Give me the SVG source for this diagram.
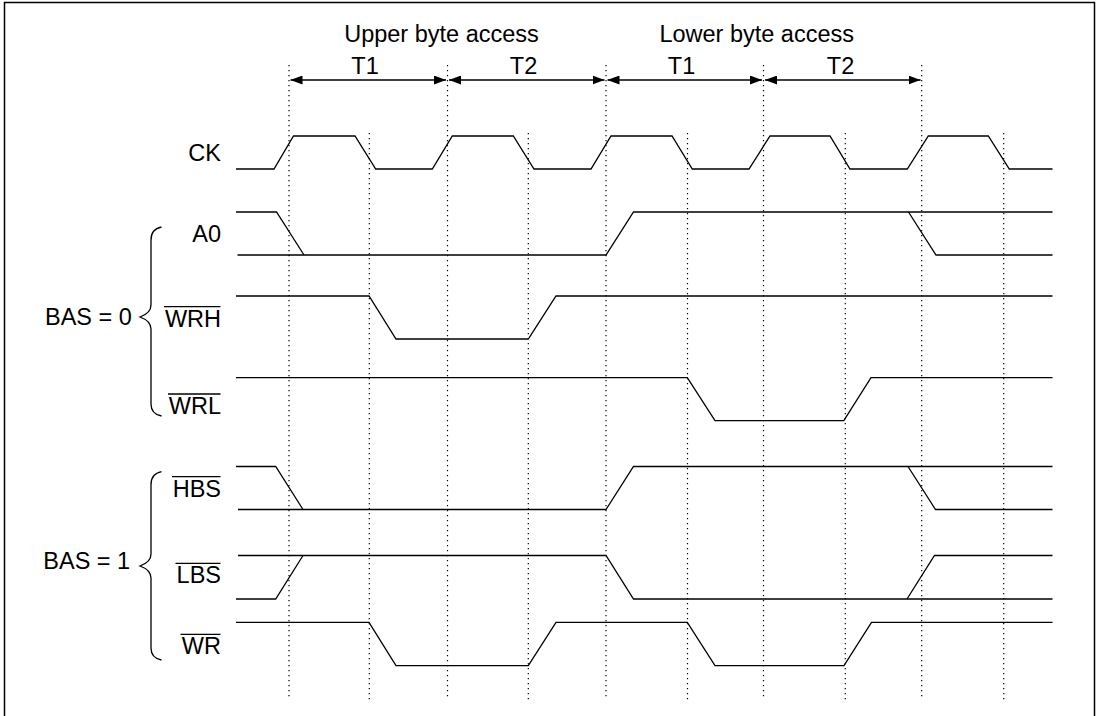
<svg xmlns="http://www.w3.org/2000/svg" width="1100" height="716" viewBox="0 0 1100 716">
<style>
  .t { font-family: "Liberation Sans", Arial, sans-serif; font-size: 23.5px; fill: #000; }
  .e { text-anchor: end; }
  .m { text-anchor: middle; }
  .w { fill: none; stroke: #000; stroke-width: 1.3; stroke-linejoin: miter; }
  .g { stroke: #000; stroke-width: 1.2; stroke-dasharray: 1.2 3.8; fill: none; }
  .a { stroke: #000; stroke-width: 1.3; fill: none; marker-start: url(#ah); marker-end: url(#ah); }
  .o { stroke: #000; stroke-width: 1.3; }
  .b { fill: none; stroke: #000; stroke-width: 1.3; }
</style>
<defs>
  <marker id="ah" viewBox="0 0 12 9" refX="12" refY="4.5" markerWidth="12" markerHeight="9" markerUnits="userSpaceOnUse" orient="auto-start-reverse">
    <path d="M0,0 L12,4.5 L0,9 z" fill="#000"/>
  </marker>
</defs>
<rect width="1100" height="716" fill="#fff"/>
<path id="frame" d="M4.5,720 V2.5 H1094.5 V720" fill="none" stroke="#000" stroke-width="1.5"/>

<g id="grid">
  <line class="g" x1="289" y1="65" x2="289" y2="700"/>
  <line class="g" x1="447.5" y1="65" x2="447.5" y2="700"/>
  <line class="g" x1="606" y1="65" x2="606" y2="700"/>
  <line class="g" x1="763.5" y1="65" x2="763.5" y2="700"/>
  <line class="g" x1="921.7" y1="65" x2="921.7" y2="700"/>
  <line class="g" x1="369.3" y1="133" x2="369.3" y2="700"/>
  <line class="g" x1="528.3" y1="133" x2="528.3" y2="700"/>
  <line class="g" x1="687.5" y1="133" x2="687.5" y2="700"/>
  <line class="g" x1="845.3" y1="133" x2="845.3" y2="700"/>
  <line class="g" x1="1003.7" y1="133" x2="1003.7" y2="700"/>
</g>

<g id="connectors">
  <line class="a" x1="290.5" y1="80" x2="446" y2="80"/>
  <line class="a" x1="449" y1="80" x2="604.5" y2="80"/>
  <line class="a" x1="607.5" y1="80" x2="762" y2="80"/>
  <line class="a" x1="765" y1="80" x2="920.5" y2="80"/>
</g>

<g id="headings">
  <text class="t m" x="441.5" y="42.3">Upper byte access</text>
  <text class="t m" x="756.7" y="41.7">Lower byte access</text>
  <text class="t m" x="365" y="74.3">T1</text>
  <text class="t m" x="523.5" y="74.3">T2</text>
  <text class="t m" x="681.5" y="74.3">T1</text>
  <text class="t m" x="840.5" y="74.3">T2</text>
</g>

<g id="CK">
  <text class="t e" x="221" y="160.7">CK</text>
  <polyline class="w" points="236,169 274,169 293.5,136 355,136 375.7,169 432.3,169 452.3,136 513.3,136 534,169 591,169 611,136 672,136 692.3,169 749,169 770,136 830,136 850,169 907.3,169 928.3,136 988.3,136 1009.3,169 1052.5,169"/>
</g>

<g id="bas0">
  <text class="t" x="45" y="325">BAS = 0</text>
  <path class="b" d="M161.5,227 Q151,229 151,240 V305 Q151,313 140,317 Q151,321 151,329 V404 Q151,414 161.5,416"/>
</g>

<g id="A0">
  <text class="t e" x="221" y="242.3">A0</text>
  <polyline class="w" points="236,212 276.5,212 304,255"/>
  <polyline class="w" points="237.5,255 606,255 633.5,212 1052.5,212"/>
  <polyline class="w" points="908.5,212 936,255 1052.5,255"/>
</g>

<g id="WRH">
  <text class="t e" x="221" y="326.7">WRH</text>
  <line class="o" x1="164" y1="306.7" x2="220.5" y2="306.7"/>
  <polyline class="w" points="236,296 369,296 396,339 528.3,339 556,296 1052.5,296"/>
</g>

<g id="WRL">
  <text class="t e" x="221" y="414">WRL</text>
  <line class="o" x1="168" y1="394" x2="220.5" y2="394"/>
  <polyline class="w" points="236,377.7 687.3,377.7 715,420.7 843.8,420.7 871,377.7 1052.5,377.7"/>
</g>

<g id="bas1">
  <text class="t" x="43.3" y="569.3">BAS = 1</text>
  <path class="b" d="M161.5,471.7 Q151,473.7 151,484.7 V554 Q151,562 140,566 Q151,570 151,578 V648 Q151,658 161.5,660"/>
</g>

<g id="HBS">
  <text class="t e" x="221" y="496.7">HBS</text>
  <line class="o" x1="172" y1="476.7" x2="220.5" y2="476.7"/>
  <polyline class="w" points="236,466.5 275.7,466.5 303,509.5"/>
  <polyline class="w" points="238,509.5 606,509.5 633.5,466.5 1052.5,466.5"/>
  <polyline class="w" points="908,466.5 935.5,509.5 1052.5,509.5"/>
</g>

<g id="LBS">
  <text class="t e" x="221" y="583.3">LBS</text>
  <line class="o" x1="175.5" y1="563.3" x2="220.5" y2="563.3"/>
  <polyline class="w" points="236,599 275.7,599 303,555.5"/>
  <polyline class="w" points="238,555.5 606,555.5 633.5,599 1052.5,599"/>
  <polyline class="w" points="907,599 934.5,555.5 1052.5,555.5"/>
</g>

<g id="WR">
  <text class="t e" x="221" y="654.3">WR</text>
  <line class="o" x1="180.5" y1="634.3" x2="220.5" y2="634.3"/>
  <polyline class="w" points="236,622.3 369,622.3 396,665.7 528.3,665.7 556,622.3 687.3,622.3 715,665.7 844,665.7 871.5,622.3 1052.5,622.3"/>
</g>
</svg>
